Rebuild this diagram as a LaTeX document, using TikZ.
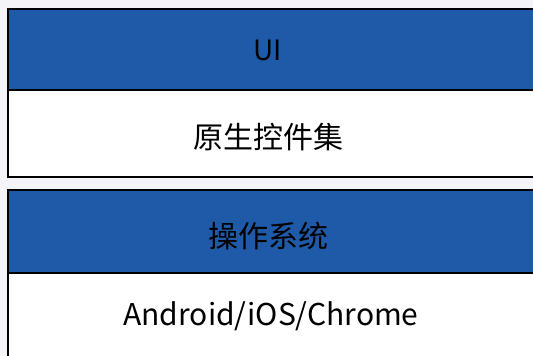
\documentclass[tikz,border=0pt]{standalone}
\usepackage{fontspec}
\setmainfont{Noto Sans CJK SC}
\usetikzlibrary{positioning}
\definecolor{layerblue}{HTML}{1F5AA8}
\definecolor{pagegray}{HTML}{F4F4F8}
\tikzset{
  layer/.style={draw=black, line width=2pt, anchor=north west, outer sep=0pt,
    inner sep=0pt, minimum width=600pt},
  toplayer/.style={layer, fill=layerblue},
  baselayer/.style={layer, fill=white},
  caption/.style={font=\fontsize{30}{34}\selectfont, text=black}
}
\begin{document}
\begin{tikzpicture}[x=1pt,y=-1pt]
\useasboundingbox (0,0) rectangle (533,356);
\fill[pagegray] (0,0) rectangle (533,356);
\clip (0,0) rectangle (533,356);

% Upper stack
\node[toplayer, minimum height=81pt] (ui) at (7.5,9) {};
\node[baselayer, minimum height=87pt, below=0pt of ui] (widgets) {};

% Lower stack
\node[toplayer, minimum height=83pt] (os) at (7.5,190) {};
\node[baselayer, minimum height=100pt, below=0pt of os] (platform) {};

% Labels
\node[caption, font=\fontsize{28}{32}\selectfont] (uitext) at (268,50) {UI};
\node[caption] (widgetstext) at (268,137) {原生控件集};
\node[caption] (ostext) at (268,236) {操作系统};
\node[caption] (platformtext) at (271,316) {Android/iOS/Chrome};

\end{tikzpicture}
\end{document}
